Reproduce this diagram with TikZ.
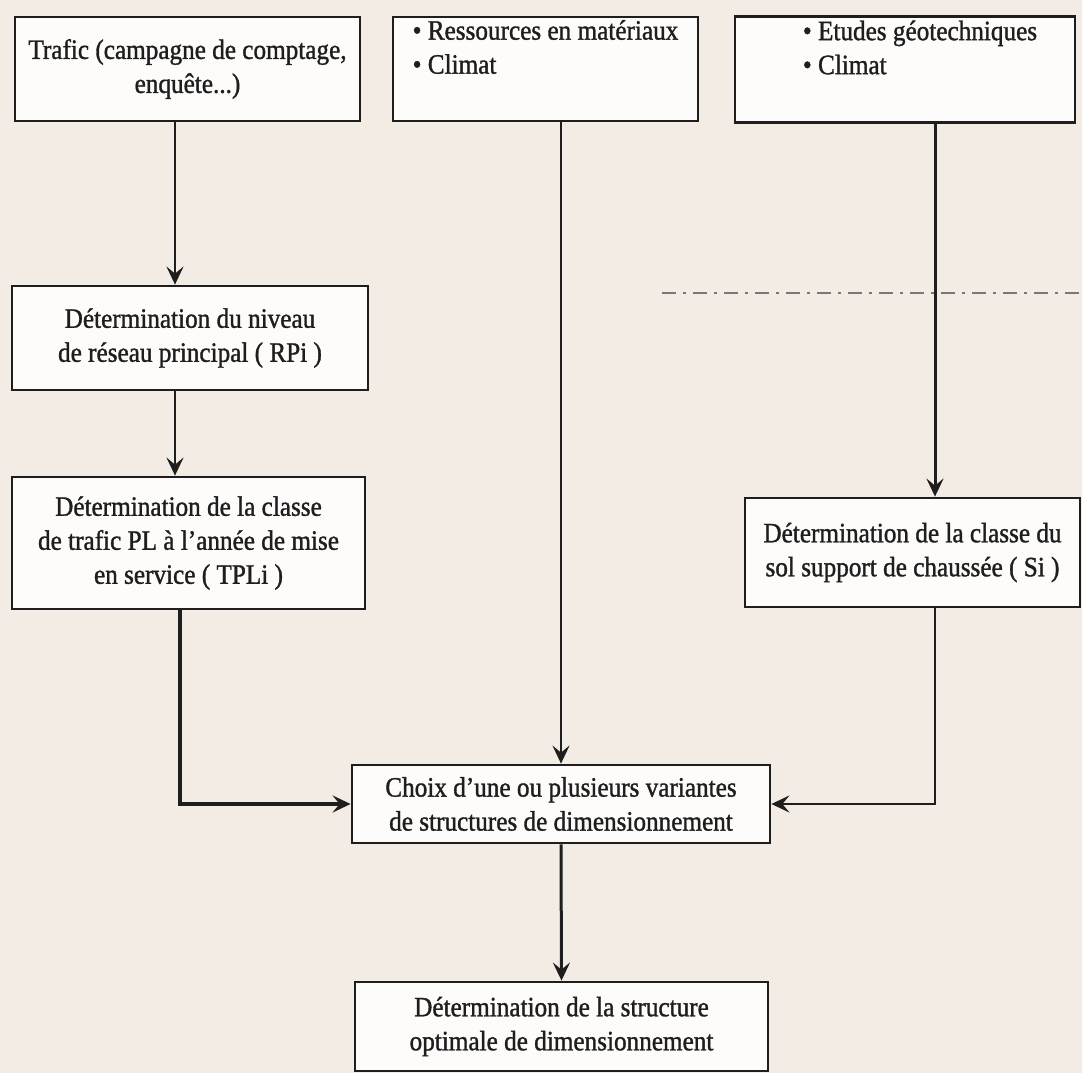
\documentclass[tikz,border=0pt]{standalone}
\usepackage{fontspec}
\setmainfont{Liberation Serif}[FakeStretch=0.9,FakeBold=1.2]
\usetikzlibrary{arrows.meta}
\definecolor{paper}{HTML}{F3ECE4}
\definecolor{boxfill}{HTML}{FDFCFA}
\definecolor{ink}{HTML}{1E1E1E}
\begin{document}
\begin{tikzpicture}[x=1pt,y=-1pt,
  every node/.style={font=\fontsize{28}{34}\selectfont, text=ink},
  box/.style={draw=ink, line width=2.8pt, fill=boxfill, align=center, inner sep=0pt},
  list/.style={box, align=left},
  conn/.style={draw=ink, line width=2.5pt},
  arr/.style={conn, -{Stealth[length=18pt,width=17pt,inset=7pt]}},
]
\useasboundingbox (0,0) rectangle (1082,1073);
\fill[paper] (0,0) rectangle (1082,1073);

\node[box, minimum width=345pt, minimum height=104pt] (trafic) at (187.5,69)
  {Trafic (campagne de comptage,\\ enquête...)};
\node[list, minimum width=305pt, minimum height=104pt] (res) at (545.5,69)
  {\textbullet\ Ressources en matériaux\\ \textbullet\ Climat\\ \strut};
\node[list, minimum width=340pt, minimum height=106pt] (etu) at (905,69.5)
  {\hspace*{30pt}\textbullet\ Etudes géotechniques\\ \hspace*{30pt}\textbullet\ Climat\\ \strut};

\node[box, minimum width=356pt, minimum height=104pt] (rpi) at (190,338)
  {Détermination du niveau\\ de réseau principal ( RPi )};
\node[box, minimum width=353pt, minimum height=132pt] (tpli) at (188.5,543)
  {Détermination de la classe\\ de trafic PL à l'année de mise\\ en service ( TPLi )};
\node[box, minimum width=335pt, minimum height=109pt] (si) at (912.5,552.5)
  {Détermination de la classe du\\ sol support de chaussée ( Si )};
\node[box, minimum width=418pt, minimum height=78pt] (choix) at (561,804)
  {Choix d'une ou plusieurs variantes\\ de structures de dimensionnement};
\node[box, minimum width=413pt, minimum height=89pt] (final) at (561.5,1026.5)
  {Détermination de la structure\\ optimale de dimensionnement};

% connectors
\draw[arr] (trafic.south -| 175,0) -- (rpi.north -| 175,0);
\draw[arr] (rpi.south -| 175,0) -- (tpli.north -| 175,0);
\draw[arr, line width=3.2pt] (tpli.south -| 180,0) |- (choix.west);
\draw[arr] (res.south -| choix.north) -- (choix.north);
\draw[arr, line width=3pt] (etu.south -| 935,0) -- (si.north -| 935,0);
\draw[arr] (si.south -| 935,0) |- (choix.east);
\draw[arr, line width=3pt] (choix.south) -- (final.north);

% faint dash-dot line
\coordinate (dl) at (662,293);
\coordinate (dr) at (1082,293);
\draw[ink!60, line width=1.5pt, dash pattern=on 14pt off 7pt on 3pt off 7pt] (dl) -- (dr);
\end{tikzpicture}
\end{document}
